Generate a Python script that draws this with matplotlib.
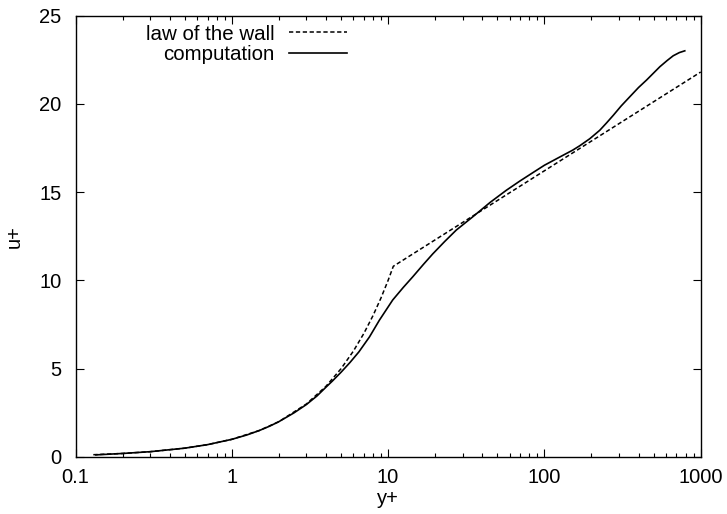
import matplotlib
matplotlib.use("Agg")
import matplotlib.pyplot as plt
import numpy as np
from matplotlib.ticker import LogLocator, FixedLocator, NullFormatter

plt.rcParams['font.family'] = ['Liberation Sans', 'DejaVu Sans']

# law of the wall
wall_y = [0.13, 0.2, 0.3, 0.5, 0.7, 1.0, 1.5, 2.0, 3.0, 4.0, 5.0, 6.0, 7.0, 8.0, 9.0, 10.0, 10.8, 1000.0]
wall_u = [0.13, 0.2, 0.3, 0.5, 0.7, 1.0, 1.5, 2.0, 3.0, 4.0, 5.0, 6.0, 7.0, 8.0, 9.0, 10.0, 10.8, 21.8]

# computation
comp_y = [0.135, 0.2, 0.3, 0.5, 0.7, 1.0, 1.25, 1.5, 1.75, 2.0, 2.5, 3.0, 3.5, 4.0, 4.4, 5.0, 5.7, 6.5, 7.6,
          8.8, 10.7, 12.5, 14.4, 16.8, 19.3, 23.0, 27.3, 34.8, 45.0, 57.0, 69.5, 85.0, 100.0, 125.0, 152.0,
          168.0, 195.0, 226.0, 250.0, 276.0, 310.0, 352.0, 400.0, 451.0, 548.0, 610.0, 667.0, 730.0, 791.0]
comp_u = [0.12, 0.2, 0.3, 0.5, 0.7, 1.0, 1.25, 1.5, 1.75, 2.0, 2.5, 2.97, 3.45, 3.95, 4.3, 4.8, 5.35, 5.95, 6.8,
          7.75, 8.89, 9.6, 10.21, 10.9, 11.5, 12.2, 12.85, 13.6, 14.42, 15.1, 15.62, 16.12, 16.52, 16.98, 17.38,
          17.62, 18.02, 18.5, 18.92, 19.35, 19.88, 20.4, 20.92, 21.35, 22.1, 22.45, 22.72, 22.9, 23.0]

fig = plt.figure(figsize=(7.27, 5.14), dpi=100)
ax = fig.add_axes([75.5/727, 1 - 457/514, (700.7-75.5)/727, (457-15.5)/514])

ax.plot(wall_y, wall_u, color='black', lw=1.1, ls=(0, (2.8, 1.7)), label='law of the wall')
ax.plot(comp_y, comp_u, color='black', lw=1.2, label='computation')

ax.set_xscale('log')
ax.set_xlim(0.1, 1000)
ax.set_ylim(0, 25)
ax.xaxis.set_major_locator(FixedLocator([0.1, 1, 10, 100, 1000]))
ax.set_xticklabels(['0.1', '1', '10', '100', '1000'])
ax.xaxis.set_minor_locator(LogLocator(base=10, subs=np.arange(2, 10)))
ax.xaxis.set_minor_formatter(NullFormatter())
ax.set_yticks([0, 5, 10, 15, 20, 25])

ax.tick_params(which='both', direction='in', top=True, right=True, labelsize=14.5)
ax.tick_params(axis='x', pad=8)
ax.tick_params(axis='y', pad=10)
ax.tick_params(which='major', length=6, width=0.8)
ax.tick_params(which='minor', length=3, width=0.8)
for s in ax.spines.values():
    s.set_linewidth(1.0)

ax.set_xlabel('y+', fontsize=14.5, labelpad=1)
ax.set_ylabel('u+', fontsize=14.5, labelpad=11)

leg = ax.legend(loc='upper right', bbox_to_anchor=(0.434, 1 - 9/441.5), frameon=False, fontsize=14.8,
                markerfirst=False, handlelength=2.8, handletextpad=0.7, labelspacing=0.07,
                borderaxespad=0.0, borderpad=0.0)
for t in leg.get_texts():
    t.set_ha('right')
leg._legend_box.align = 'right'

fig.savefig('out.png', dpi=100)
